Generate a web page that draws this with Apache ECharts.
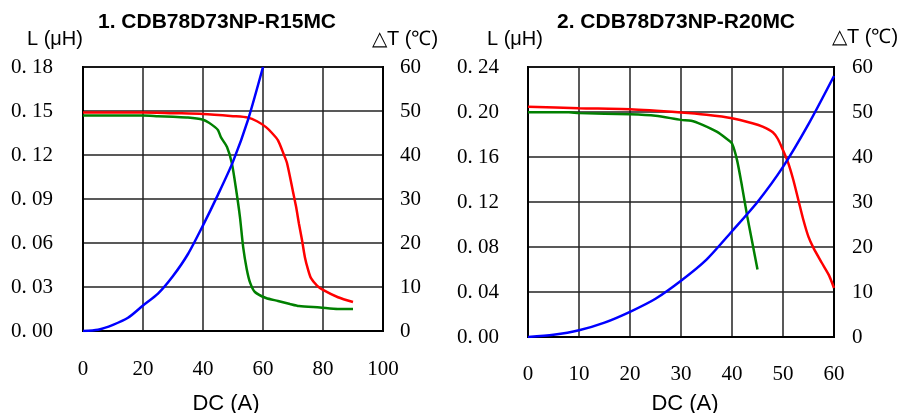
<!DOCTYPE html>
<html><head><meta charset="utf-8">
<script src="https://cdn.jsdelivr.net/npm/echarts@6/dist/echarts.min.js"></script>
<style>html,body{margin:0;padding:0;background:#fff}#c{width:903px;height:413px}</style>
</head><body><div id="c"></div>
<script>
// ---- Chart 1: CDB78D73NP-R15MC ----
const title1 = '1. CDB78D73NP-R15MC';
const xTicks1 = ['0','20','40','60','80','100'];
const yTicks1 = ['0. 00','0. 03','0. 06','0. 09','0. 12','0. 15','0. 18'];
const tTicks1 = ['0','10','20','30','40','50','60'];
const red1 = [[0,0.149],[10,0.149],[20,0.149],[30,0.1485],[40,0.148],[50,0.1465],[55,0.1455],[58,0.143],[61,0.139],[63,0.135],[65,0.130],[67,0.120],[68,0.1145],[70,0.095],[71,0.085],[72,0.073],[73,0.062],[74,0.050],[75,0.042],[76,0.036],[78,0.031],[80,0.028],[85,0.023],[90,0.0198]];
const green1 = [[0,0.147],[10,0.147],[20,0.147],[25,0.1465],[30,0.146],[35,0.1455],[40,0.144],[42,0.142],[44,0.139],[45,0.137],[46,0.132],[48,0.1255],[49.6,0.1145],[51,0.097],[52.3,0.078],[53.4,0.057],[54.6,0.042],[55.7,0.033],[57.3,0.0266],[61,0.0225],[65,0.0205],[69,0.0184],[72,0.017],[79,0.016],[85,0.015],[90,0.015]];
const blue1 = [[0,0],[5,0.3],[10,1.4],[15,3],[20,5.8],[25,8.5],[30,12.5],[35,17.5],[40,24],[45,31],[50,38.5],[55,48],[60,60]];

// ---- Chart 2: CDB78D73NP-R20MC ----
const title2 = '2. CDB78D73NP-R20MC';
const xTicks2 = ['0','10','20','30','40','50','60'];
const yTicks2 = ['0. 00','0. 04','0. 08','0. 12','0. 16','0. 20','0. 24'];
const tTicks2 = ['0','10','20','30','40','50','60'];
const red2 = [[0,0.2047],[10,0.2033],[20,0.2024],[30,0.1995],[35,0.1975],[40,0.1945],[44,0.190],[46,0.187],[48,0.182],[49,0.176],[50,0.166],[51,0.155],[52,0.140],[53,0.122],[54,0.104],[55,0.089],[56,0.079],[57.6,0.066],[59,0.055],[60,0.0436]];
const green2 = [[0,0.1997],[8,0.1997],[10,0.199],[20,0.198],[25,0.1967],[30,0.193],[32,0.1922],[34,0.189],[37,0.1825],[39,0.176],[40,0.172],[41,0.157],[42,0.133],[43,0.107],[44,0.0836],[45,0.06]];
const blue2 = [[0,0],[5,0.5],[10,1.5],[15,3.2],[20,5.6],[25,8.5],[30,12.5],[35,17.2],[40,23.5],[45,30],[50,37.8],[55,47.3],[60,58]];

const serif = 'Liberation Serif';
const sans = 'Liberation Sans';
const labelStyle = {fontFamily: serif, fontSize: 21, color: '#000'};

function xAxis(gi, max, interval, ticks, margin) {
  return {type:'value', gridIndex: gi, min:0, max:max, interval:interval,
    axisLine:{show:true, lineStyle:{color:'#000', width:2}},
    axisTick:{show:false},
    axisLabel:Object.assign({margin:margin, formatter:(v)=>ticks[Math.round(v/interval)]}, labelStyle),
    splitLine:{show:true, lineStyle:{color:'#222', width:1.5}}};
}
function yAxisL(gi, max, interval, ticks, margin) {
  return {type:'value', gridIndex: gi, min:0, max:max, interval:interval, position:'left',
    axisLine:{show:true, lineStyle:{color:'#000', width:2}},
    axisTick:{show:false},
    axisLabel:Object.assign({margin:margin, formatter:(v)=>ticks[Math.round(v/interval)]}, labelStyle),
    splitLine:{show:true, lineStyle:{color:'#222', width:1.5}}};
}
function yAxisR(gi, ticks, margin) {
  return {type:'value', gridIndex: gi, min:0, max:60, interval:10, position:'right',
    axisLine:{show:true, lineStyle:{color:'#000', width:2}},
    axisTick:{show:false},
    axisLabel:Object.assign({margin:margin, formatter:(v)=>ticks[Math.round(v/10)]}, labelStyle),
    splitLine:{show:false}};
}
function line(data, color, xi, yi) {
  return {type:'line', data:data, xAxisIndex:xi, yAxisIndex:yi, showSymbol:false, symbol:'none',
    smooth:0.25, lineStyle:{color:color, width:2.5}, itemStyle:{color:color}, z:5};
}

const chart = echarts.init(document.getElementById('c'));
chart.setOption({
  animation:false,
  backgroundColor:'#fff',
  title:[
    {text:title1, left:212, top:7, textAlign:'center', textStyle:{fontFamily:sans, fontWeight:'bold', fontSize:21, color:'#000'}},
    {text:title2, left:671, top:7, textAlign:'center', textStyle:{fontFamily:sans, fontWeight:'bold', fontSize:21, color:'#000'}},
    {text:'L (μH)', left:22, top:24, textStyle:{fontFamily:sans, fontWeight:'normal', fontSize:20, color:'#000'}},
    {text:'△T (℃)', left:367, top:24, textStyle:{fontFamily:sans, fontWeight:'normal', fontSize:20, color:'#000'}},
    {text:'L (μH)', left:482, top:24, textStyle:{fontFamily:sans, fontWeight:'normal', fontSize:20, color:'#000'}},
    {text:'△T (℃)', left:827, top:22, textStyle:{fontFamily:sans, fontWeight:'normal', fontSize:20, color:'#000'}},
    {text:'DC (A)', left:221, top:388, textAlign:'center', textStyle:{fontFamily:sans, fontWeight:'normal', fontSize:22, color:'#000'}},
    {text:'DC (A)', left:680, top:388, textAlign:'center', textStyle:{fontFamily:sans, fontWeight:'normal', fontSize:22, color:'#000'}}
  ],
  grid:[
    {left:83, top:67, width:300, height:264, show:true, borderColor:'#000', borderWidth:2, backgroundColor:'transparent'},
    {left:528, top:67, width:306, height:270, show:true, borderColor:'#000', borderWidth:2, backgroundColor:'transparent'}
  ],
  xAxis:[ xAxis(0,100,20,xTicks1,28), xAxis(1,60,10,xTicks2,27) ],
  yAxis:[ yAxisL(0,0.18,0.03,yTicks1,30), yAxisR(0,tTicks1,17), yAxisL(1,0.24,0.04,yTicks2,29), yAxisR(1,tTicks2,18) ],
  series:[
    line(red1,'#ff0000',0,0), line(green1,'#008000',0,0), line(blue1,'#0000ff',0,1),
    line(red2,'#ff0000',1,2), line(green2,'#008000',1,2), line(blue2,'#0000ff',1,3)
  ]
});
</script></body></html>
